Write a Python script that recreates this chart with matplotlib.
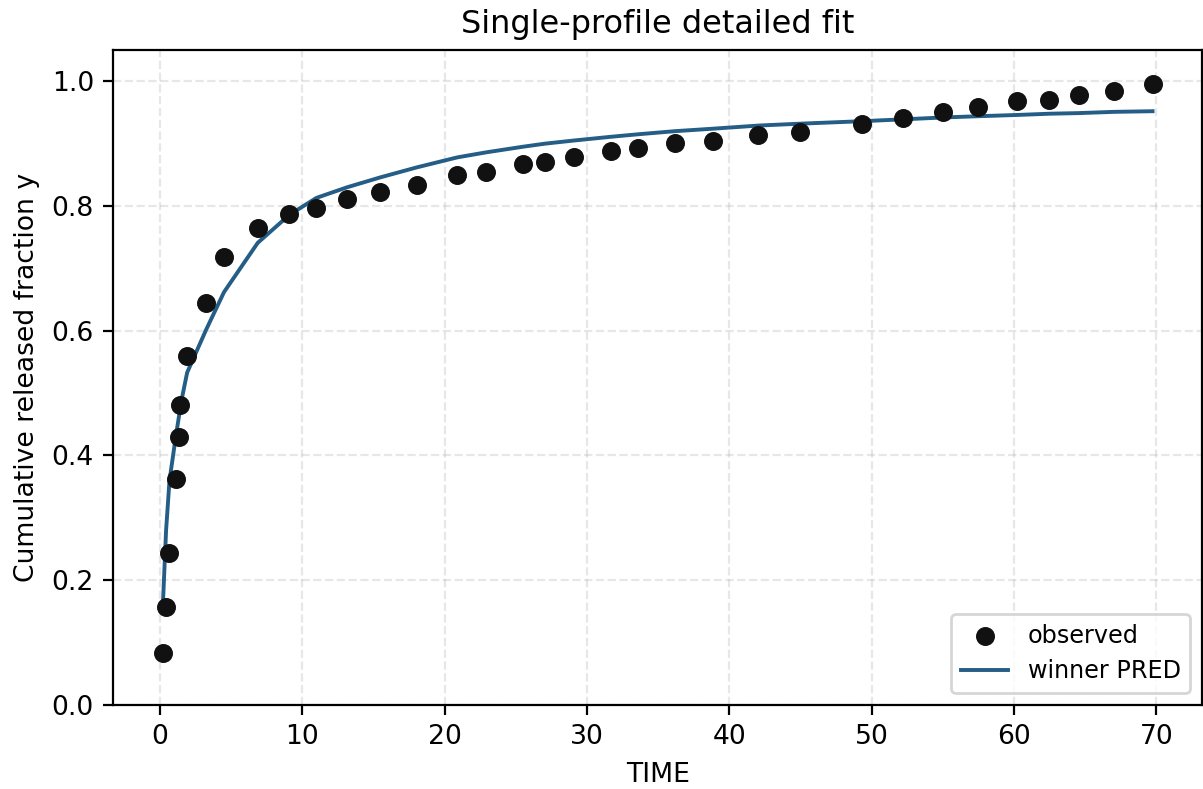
import matplotlib
matplotlib.use("Agg")
import matplotlib.pyplot as plt

# observed release profile
time_obs = [0.21, 0.44, 0.68, 1.12, 1.36, 1.43, 1.92, 3.26, 4.51, 6.88,
            9.11, 11.0, 13.15, 15.5, 18.06, 20.9, 22.91, 25.49, 27.06, 29.08,
            31.68, 33.58, 36.18, 38.87, 42.05, 44.95, 49.32, 52.22, 55.05,
            57.51, 60.22, 62.5, 64.57, 67.05, 69.74]
y_obs = [0.083, 0.157, 0.244, 0.362, 0.429, 0.481, 0.560, 0.644, 0.718, 0.765,
         0.788, 0.797, 0.812, 0.822, 0.834, 0.849, 0.854, 0.867, 0.871, 0.879,
         0.889, 0.893, 0.901, 0.904, 0.914, 0.918, 0.931, 0.941, 0.951,
         0.958, 0.968, 0.970, 0.978, 0.985, 0.995]

# winning model prediction at the same time points
y_pred = [0.158, 0.280, 0.360, 0.430, 0.465, 0.478, 0.533, 0.602, 0.662, 0.741,
          0.786, 0.813, 0.830, 0.846, 0.862, 0.878, 0.886, 0.895, 0.900, 0.905,
          0.911, 0.915, 0.920, 0.924, 0.929, 0.932, 0.936, 0.939, 0.942,
          0.944, 0.946, 0.948, 0.949, 0.951, 0.952]

plt.rcParams["font.size"] = 9.6

fig = plt.figure(figsize=(1203 / 200, 789 / 200), dpi=200)
ax = fig.add_axes([0.0942, 0.1065, 0.905, 0.830])

ax.scatter(time_obs, y_obs, s=34, color="#111111", label="observed", zorder=3)
ax.plot(time_obs, y_pred, color="#245d85", lw=1.4, label="winner PRED", zorder=2)

ax.set_ylim(0.0, 1.05)
ax.set_xlabel("TIME")
ax.set_ylabel("Cumulative released fraction y")
ax.set_title("Single-profile detailed fit")
ax.grid(True, linestyle="--", alpha=0.3)
ax.legend(loc="lower right", fontsize=8.6)

fig.savefig("out.png", dpi=200)
